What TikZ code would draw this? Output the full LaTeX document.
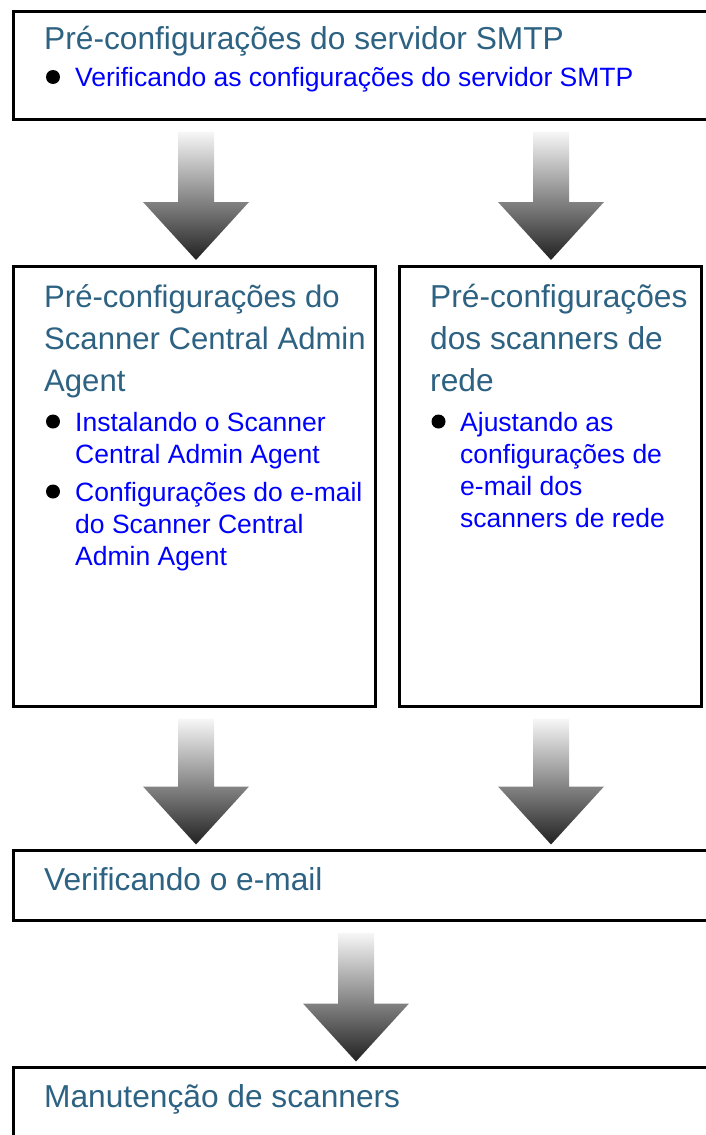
\documentclass[tikz,border=0pt]{standalone}
\usepackage{fontspec}
\setmainfont{Liberation Sans}
\usetikzlibrary{calc}
\definecolor{ttlBlue}{HTML}{2D6282}
\definecolor{lnkBlue}{HTML}{0000FF}

\newcommand{\flowarrow}[3]{%
  \shade[top color=black!3,bottom color=black!87]
    let \p1=(#2.south), \p2=(#3.north) in
    ({#1-18},{\y1-12}) -- ({#1+18},{\y1-12}) -- ({#1+18},{\y2+64})
    -- ({#1+53},{\y2+64}) -- (#1,{\y2+6}) -- ({#1-53},{\y2+64})
    -- ({#1-18},{\y2+64}) -- cycle;}

\begin{document}
\begin{tikzpicture}[x=1pt,y=1pt,
  box/.style={draw=black,line width=3pt,outer sep=0pt,inner sep=0pt,anchor=north west},
  ttl/.style={text=ttlBlue,font=\fontsize{31.7}{42}\selectfont,anchor=base west,inner sep=0pt,align=left},
  itm/.style={text=lnkBlue,font=\fontsize{26.5}{32}\selectfont,anchor=base west,inner sep=0pt,align=left},
  dot/.style={circle,fill=black,inner sep=0pt,minimum size=14pt}]
  \useasboundingbox (0,0) rectangle (706,-1135);
  \clip (0,0) rectangle (706,-1135);

  \node[box,minimum width=720pt,minimum height=108pt] (smtp) at (13.5,-11.5) {};
  \node[box,minimum width=361.5pt,minimum height=440.5pt] (scac) at (13.5,-266) {};
  \node[box,minimum width=301.5pt,minimum height=440.5pt] (scnr) at (399.5,-266) {};
  \node[box,minimum width=720pt,minimum height=70pt] (mail) at (13.5,-850.5) {};
  \node[box,minimum width=720pt,minimum height=100pt] (mant) at (13.5,-1067.5) {};

  \flowarrow{196}{smtp}{scac}
  \flowarrow{551}{smtp}{scnr}
  \flowarrow{196}{scac}{mail}
  \flowarrow{551}{scnr}{mail}
  \flowarrow{356}{mail}{mant}

  % multi-line nodes sit on the baseline of their last line
  \node[ttl] (smtp-t) at (44,-49.5) {Pré-configurações do servidor SMTP};
  \node[itm] (smtp-i1) at (75,-86.5) {Verificando as configurações do servidor SMTP};
  \node[ttl,font=\fontsize{31.1}{42}\selectfont] (scac-t) at (44,-391) {Pré-configurações do\\Scanner Central Admin\\Agent};
  \node[itm] (scac-i1) at (75,-463) {Instalando o Scanner\\Central Admin Agent};
  \node[itm] (scac-i2) at (75,-565) {Configurações do e-mail\\do Scanner Central\\Admin Agent};
  \node[ttl] (scnr-t) at (430,-391) {Pré-configurações\\dos scanners de\\rede};
  \node[itm] (scnr-i1) at (460,-527) {Ajustando as\\configurações de\\e-mail dos\\scanners de rede};
  \node[ttl] (mail-t) at (44,-890) {Verificando o e-mail};
  \node[ttl] (mant-t) at (44,-1107.5) {Manutenção de scanners};

  \foreach \n/\x/\y in {smtp-i1/53/77,scac-i1/53/421.5,scac-i2/53/491.5,scnr-i1/438.5/421.5}
    \node[dot] (\n-b) at (\x,-\y) {};
\end{tikzpicture}
\end{document}
